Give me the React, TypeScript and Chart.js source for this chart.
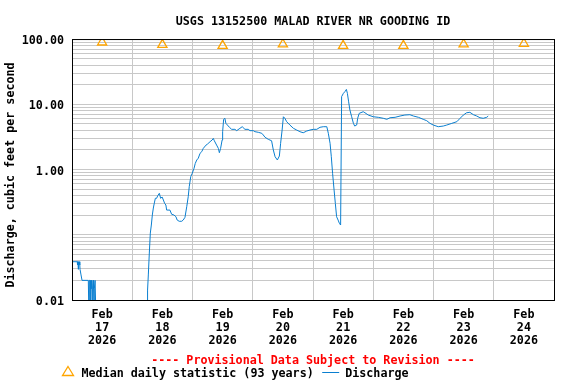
import React, { useEffect, useRef } from 'react';
import { Chart, registerables } from 'chart.js';

Chart.register(...registerables);

const FONT_FAMILY = '"DejaVu Sans Mono", "Liberation Mono", monospace';
const FONT_SIZE = 11.7;

const TITLE = 'USGS 13152500 MALAD RIVER NR GOODING ID';
const Y_TITLE = 'Discharge, cubic feet per second';
const PROVISIONAL = '---- Provisional Data Subject to Revision ----';
const MEDIAN_LABEL = 'Median daily statistic (93 years)';
const DISCHARGE_LABEL = 'Discharge';

// x axis: hours since Feb 17 2026 00:00
const xTickHours = [0, 12, 24, 36, 48, 60, 72, 84, 96, 108, 120, 132, 144, 156, 168, 180, 192];
const dayMonth = 'Feb';
const dayNumbers = ['17', '18', '19', '20', '21', '22', '23', '24'];
const dayYear = '2026';

// y axis (log)
const yGridValues = [
  0.01, 0.02, 0.03, 0.04, 0.05, 0.06, 0.07, 0.08, 0.09,
  0.1, 0.2, 0.3, 0.4, 0.5, 0.6, 0.7, 0.8, 0.9,
  1, 2, 3, 4, 5, 6, 7, 8, 9,
  10, 20, 30, 40, 50, 60, 70, 80, 90,
  100,
];
const yLabelValues = [0.01, 1, 10, 100];
const yLabelTexts = ['0.01', '1.00', '10.00', '100.00'];

// median daily statistic (noon of each day)
const medianHours = [12, 36, 60, 84, 108, 132, 156, 180];
const medianValues = [89, 82, 79, 83, 79, 79, 83, 85];

// discharge series
const dischargeHours = [
  0, 2.1, 2.2, 2.4, 2.5, 2.6, 2.9, 3.1, 3.2, 3.5, 3.6, 3.9, 4.0, 6.5,
  6.7, 6.8, 6.9, 7.2, 7.3, 7.4, 7.5, 7.8, 7.9, 8.1, 8.2, 8.5, 8.6, 8.8, 8.9, 9.2, 9.5, 9.6,
  29.9, 30.1, 30.4, 30.8, 31.2, 31.6, 32.0, 32.4, 32.8, 33.2, 33.7, 34.2, 34.8, 35.3, 35.9,
  36.4, 36.9, 37.4, 37.7, 39.0, 39.7, 40.6, 41.4, 41.9, 42.7, 43.7, 44.3, 45.0, 45.7, 46.3,
  46.7, 47.3, 47.9, 48.6, 49.1, 49.7, 50.3, 51.0, 51.7, 52.3, 53.4, 54.0, 55.0, 55.8, 56.3,
  56.7, 57.6, 58.3, 58.7, 59.2, 59.8, 60.0, 60.4, 60.9, 61.3, 61.9, 62.7, 63.6, 64.9, 65.6,
  66.9, 67.8, 68.9, 70.2, 70.9, 72.2, 72.9, 74.2, 75.6, 76.2, 76.9, 78.2, 79.5, 80.2, 80.9,
  81.8, 82.6, 83.1, 83.7, 84.2, 84.8, 85.5, 86.8, 88.2, 89.5, 90.8, 92.1, 93.5, 94.8, 96.1,
  97.5, 98.8, 100.1, 101.5, 102.1, 102.8, 103.3, 103.8, 104.4, 104.9, 105.4, 106.0, 106.5, 107.0,
  107.4, 108.1, 108.7, 109.3, 109.7, 110.2, 110.7, 111.4, 112.1, 112.6, 113.4, 113.8, 114.4,
  116.0, 116.7, 118.0, 120.0, 122.0, 124.0, 125.4, 126.7, 128.7, 130.7, 132.6, 134.6, 136.0,
  138.0, 139.9, 141.3, 142.6, 143.9, 145.9, 147.9, 149.3, 151.3, 153.3, 154.6, 155.9, 157.2,
  158.5, 159.9, 161.2, 162.5, 163.8, 165.2, 165.8,
];
const dischargeValues = [
  0.0386, 0.0386, 0.0344, 0.0386, 0.0295, 0.0344, 0.0386, 0.0344, 0.0295, 0.0295, 0.0242, 0.0242, 0.02, 0.02,
  0.02, 0.004, 0.02, 0.02, 0.0148, 0.004, 0.0148, 0.02, 0.0148, 0.004, 0.0148, 0.02, 0.0148, 0.004, 0.0148, 0.02, 0.02, 0.004,
  0.004, 0.0142, 0.0242, 0.0525, 0.106, 0.141, 0.201, 0.257, 0.307, 0.362, 0.362, 0.40, 0.432, 0.362, 0.379,
  0.341, 0.303, 0.286, 0.239, 0.239, 0.206, 0.201, 0.189, 0.168, 0.161, 0.161, 0.168, 0.185, 0.269, 0.383,
  0.545, 0.776, 0.875, 1.04, 1.24, 1.40, 1.49, 1.77, 1.88, 2.11, 2.37, 2.46, 2.67, 2.83, 3.00,
  2.76, 2.37, 2.11, 1.81, 2.11, 2.83, 3.80, 5.88, 6.10, 5.10, 4.81, 4.44, 4.13, 4.13, 3.94,
  4.28, 4.53, 4.13, 4.13, 3.94, 3.94, 3.80, 3.72, 3.59, 3.38, 3.12, 2.90, 2.76, 1.99, 1.57,
  1.40, 1.61, 2.52, 4.03, 6.44, 6.10, 5.41, 4.81, 4.28, 4.03, 3.80, 3.66, 3.89, 4.03, 4.13,
  4.13, 4.44, 4.53, 4.53, 3.59, 2.52, 1.57, 0.875, 0.485, 0.303, 0.189, 0.168, 0.150, 0.141,
  13.1, 14.7, 15.6, 16.9, 14.7, 10.9, 8.17, 6.44, 5.10, 4.64, 4.81, 6.10, 7.26,
  7.69, 7.42, 6.84, 6.44, 6.31, 6.10, 5.88, 6.22, 6.31, 6.61, 6.84, 6.92, 6.61,
  6.31, 5.88, 5.60, 5.10, 4.81, 4.53, 4.64, 4.81, 5.10, 5.41, 6.10, 6.84, 7.42,
  7.53, 6.92, 6.61, 6.22, 6.10, 6.31, 6.61,
];

const BLUE = '#0a7fd0';
const ORANGE = '#ffa500';
const GRID = '#c8c8c8';

const frameLegendPlugin = {
  id: 'frameLegend',
  afterDraw(chart: any) {
    const { ctx, chartArea: a } = chart;
    ctx.save();
    // plot frame
    ctx.strokeStyle = '#000';
    ctx.lineWidth = 1;
    ctx.strokeRect(a.left + 0.5, a.top + 0.5, a.right - a.left, a.bottom - a.top);

    ctx.font = `bold ${FONT_SIZE}px ${FONT_FAMILY}`;
    ctx.textBaseline = 'middle';

    // y axis title
    ctx.save();
    ctx.fillStyle = '#000';
    ctx.textAlign = 'center';
    ctx.translate(11, 175);
    ctx.rotate(-Math.PI / 2);
    ctx.fillText(Y_TITLE, 0, 0);
    ctx.restore();

    // provisional notice
    ctx.fillStyle = '#ff0000';
    ctx.textAlign = 'center';
    ctx.fillText(PROVISIONAL, (a.left + a.right) / 2, 360.5);

    // legend row
    const ly = 373.5;
    ctx.strokeStyle = ORANGE;
    ctx.lineWidth = 1.3;
    ctx.beginPath();
    ctx.moveTo(68, 366.5);
    ctx.lineTo(73.5, 375.5);
    ctx.lineTo(62.5, 375.5);
    ctx.closePath();
    ctx.stroke();

    ctx.fillStyle = '#000';
    ctx.textAlign = 'left';
    const tx = 81.5;
    ctx.fillText(MEDIAN_LABEL, tx, ly);
    const w = ctx.measureText(MEDIAN_LABEL).width;
    const lx = tx + w + 8.5;
    ctx.strokeStyle = BLUE;
    ctx.lineWidth = 1;
    ctx.beginPath();
    ctx.moveTo(lx, 372.5);
    ctx.lineTo(lx + 17, 372.5);
    ctx.stroke();
    ctx.fillText(DISCHARGE_LABEL, lx + 23, ly);
    ctx.restore();
  },
};

export default function App() {
  const ref = useRef<HTMLCanvasElement | null>(null);

  useEffect(() => {
    if (!ref.current) return;
    Chart.defaults.font.family = FONT_FAMILY;
    const font = { family: FONT_FAMILY, size: FONT_SIZE, weight: 'bold' as const };

    const discharge = dischargeHours.map((h, i) => ({ x: h, y: dischargeValues[i] }));
    const medians = medianHours.map((h, i) => ({ x: h, y: medianValues[i] }));

    const chart = new Chart(ref.current, {
      type: 'line',
      data: {
        datasets: [
          {
            label: DISCHARGE_LABEL,
            data: discharge,
            borderColor: BLUE,
            borderWidth: 1,
            pointRadius: 0,
            fill: false,
            tension: 0,
          },
          {
            label: MEDIAN_LABEL,
            data: medians,
            showLine: false,
            pointStyle: 'triangle',
            pointRadius: 5.3,
            pointBorderColor: ORANGE,
            pointBackgroundColor: 'rgba(0,0,0,0)',
            pointBorderWidth: 1.3,
            borderColor: ORANGE,
          },
        ],
      },
      options: {
        responsive: false,
        animation: false,
        events: [],
        layout: { padding: { top: 0, right: 22, bottom: 0, left: 0 } },
        plugins: {
          legend: { display: false },
          tooltip: { enabled: false },
          title: {
            display: true,
            text: TITLE,
            fullSize: false,
            color: '#000',
            font: { ...font, lineHeight: 1.2 },
            padding: { top: 14.5, bottom: 10.5 },
          },
        },
        scales: {
          x: {
            type: 'linear',
            min: 0,
            max: 192,
            afterBuildTicks: (s: any) => {
              s.ticks = xTickHours.map((v) => ({ value: v }));
            },
            afterFit: (s: any) => {
              s.height = 84;
            },
            grid: {
              drawTicks: false,
              color: (c: any) =>
                c.tick && c.tick.value % 24 === 0 ? GRID : 'rgba(0,0,0,0)',
              lineWidth: 1,
            },
            border: { display: false },
            ticks: {
              autoSkip: false,
              maxRotation: 0,
              minRotation: 0,
              padding: 8.5,
              color: '#000',
              font: { ...font, lineHeight: 1.11 },
              callback: (v: any) => {
                const n = Number(v);
                if (n % 24 !== 12) return '';
                const idx = (n - 12) / 24;
                return [dayMonth, dayNumbers[idx], dayYear];
              },
            },
          },
          y: {
            type: 'logarithmic',
            min: 0.01,
            max: 100,
            afterBuildTicks: (s: any) => {
              s.ticks = yGridValues.map((v) => ({ value: v }));
            },
            afterFit: (s: any) => {
              s.width = 72;
            },
            grid: { drawTicks: false, color: GRID, lineWidth: 1 },
            border: { display: false },
            title: { display: false },
            ticks: {
              autoSkip: false,
              padding: 8,
              labelOffset: 2,
              color: '#000',
              font,
              callback: (v: any) => {
                const n = Number(v);
                for (let i = 0; i < yLabelValues.length; i++) {
                  if (Math.abs(n - yLabelValues[i]) < yLabelValues[i] * 1e-6) return yLabelTexts[i];
                }
                return '';
              },
            },
          },
        },
      },
      plugins: [frameLegendPlugin],
    });
    return () => chart.destroy();
  }, []);

  return (
    <div style={{ position: 'fixed', left: 0, top: 0, width: 576, height: 384, background: '#fff' }}>
      <canvas ref={ref} width={576} height={384} style={{ display: 'block', width: 576, height: 384 }} />
    </div>
  );
}
